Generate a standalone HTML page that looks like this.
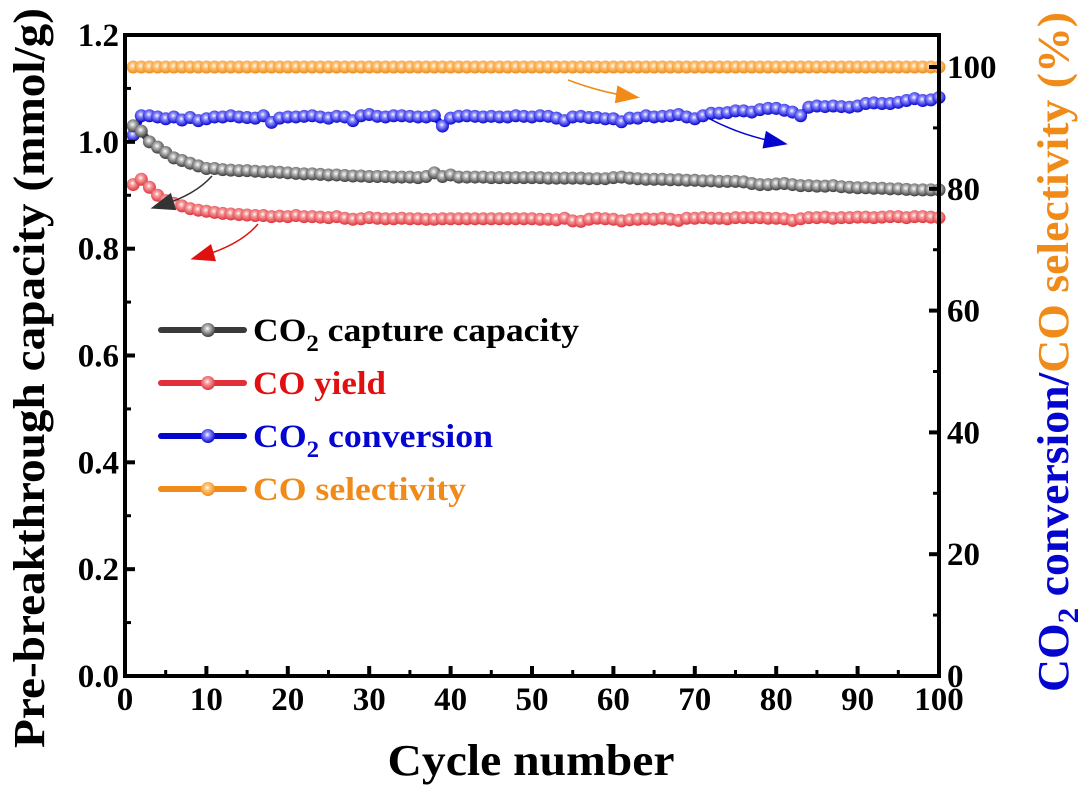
<!DOCTYPE html>
<html><head><meta charset="utf-8"><style>
body{margin:0;background:#fff}
svg{display:block;font-family:"Liberation Serif",serif;font-weight:bold}
</style></head><body>
<svg width="1080" height="792" viewBox="0 0 1080 792">
<defs>
<radialGradient id="gk" cx="0.45" cy="0.4" r="0.6"><stop offset="0" stop-color="#fff"/><stop offset="0.3" stop-color="#bbb"/><stop offset="1" stop-color="#3a3a3a"/></radialGradient>
<radialGradient id="gr" cx="0.45" cy="0.4" r="0.6"><stop offset="0" stop-color="#fff"/><stop offset="0.3" stop-color="#f5a0a0"/><stop offset="1" stop-color="#e0303a"/></radialGradient>
<radialGradient id="gb" cx="0.45" cy="0.4" r="0.6"><stop offset="0" stop-color="#fff"/><stop offset="0.3" stop-color="#9090ff"/><stop offset="1" stop-color="#0505d0"/></radialGradient>
<radialGradient id="go" cx="0.45" cy="0.4" r="0.6"><stop offset="0" stop-color="#fff"/><stop offset="0.3" stop-color="#ffc880"/><stop offset="1" stop-color="#f08a18"/></radialGradient>
</defs>
<g id="series"></g>
<g id="axes"></g>
<g id="legend"></g>
<text x="531" y="775" font-size="44" text-anchor="middle" textLength="287" lengthAdjust="spacingAndGlyphs">Cycle number</text>
<text transform="translate(44,378) rotate(-90)" font-size="44" text-anchor="middle" textLength="740" lengthAdjust="spacingAndGlyphs">Pre-breakthrough capacity (mmol/g)</text>
<text transform="translate(1068,352) rotate(-90)" font-size="44" text-anchor="middle" textLength="680" lengthAdjust="spacingAndGlyphs"><tspan fill="#0505d0">CO<tspan font-size="30" dy="10">2</tspan><tspan dy="-10"> conversion/</tspan></tspan><tspan fill="#f08a18">CO selectivity (%)</tspan></text>
</svg>
<script>
const cycles=[1,2,3,4,5,6,7,8,9,10,11,12,13,14,15,16,17,18,19,20,21,22,23,24,25,26,27,28,29,30,31,32,33,34,35,36,37,38,39,40,41,42,43,44,45,46,47,48,49,50,51,52,53,54,55,56,57,58,59,60,61,62,63,64,65,66,67,68,69,70,71,72,73,74,75,76,77,78,79,80,81,82,83,84,85,86,87,88,89,90,91,92,93,94,95,96,97,98,99,100];
const captureCapacity=[1.03,1.02,1.00,0.99,0.98,0.97,0.965,0.96,0.955,0.95,0.95,0.948,0.947,0.946,0.946,0.945,0.944,0.944,0.943,0.942,0.941,0.940,0.940,0.939,0.938,0.938,0.937,0.936,0.936,0.935,0.935,0.935,0.934,0.934,0.934,0.933,0.935,0.942,0.935,0.938,0.934,0.934,0.934,0.934,0.933,0.933,0.933,0.933,0.933,0.933,0.933,0.932,0.932,0.932,0.932,0.932,0.931,0.931,0.931,0.933,0.934,0.932,0.931,0.930,0.930,0.930,0.929,0.929,0.928,0.928,0.927,0.927,0.926,0.926,0.926,0.925,0.922,0.920,0.920,0.921,0.922,0.920,0.918,0.918,0.917,0.917,0.918,0.916,0.915,0.914,0.914,0.913,0.913,0.912,0.912,0.911,0.910,0.910,0.910,0.910];
const coYield=[0.920,0.930,0.915,0.900,0.890,0.885,0.880,0.875,0.872,0.870,0.868,0.866,0.865,0.864,0.863,0.862,0.862,0.860,0.861,0.860,0.862,0.860,0.860,0.859,0.858,0.860,0.857,0.855,0.856,0.858,0.857,0.856,0.856,0.857,0.856,0.856,0.855,0.855,0.856,0.856,0.856,0.856,0.856,0.856,0.856,0.856,0.856,0.856,0.856,0.856,0.855,0.855,0.854,0.857,0.852,0.851,0.855,0.857,0.856,0.855,0.852,0.854,0.855,0.856,0.855,0.857,0.855,0.853,0.857,0.857,0.858,0.857,0.857,0.856,0.858,0.858,0.858,0.858,0.857,0.857,0.856,0.853,0.856,0.858,0.858,0.859,0.857,0.858,0.858,0.859,0.859,0.858,0.859,0.860,0.860,0.858,0.860,0.860,0.859,0.858];
const co2Conversion=[88.8,92.0,92.0,91.8,91.5,91.8,91.3,91.7,91.2,91.5,91.8,91.8,92.0,91.8,91.7,91.6,92.0,90.9,91.6,91.8,91.8,91.9,92.0,91.8,91.6,91.9,91.8,91.2,92.0,92.2,91.9,91.8,92.0,92.0,91.9,91.8,91.8,92.0,90.3,91.6,91.9,92.0,91.9,91.8,91.9,91.8,91.8,92.0,91.9,91.8,92.0,91.9,91.6,91.2,91.8,91.9,91.7,91.7,91.5,91.5,91.0,91.6,91.6,92.0,91.8,91.9,92.0,92.2,91.8,91.5,92.0,92.4,92.4,92.5,92.8,92.8,92.6,93.0,93.2,93.2,92.9,92.6,92.0,93.4,93.6,93.5,93.6,93.5,93.4,93.6,94.0,94.1,94.0,94.0,94.2,94.5,94.8,94.5,94.6,95.0];
const coSelectivity=[100,100,100,100,100,100,100,100,100,100,100,100,100,100,100,100,100,100,100,100,100,100,100,100,100,100,100,100,100,100,100,100,100,100,100,100,100,100,100,100,100,100,100,100,100,100,100,100,100,100,100,100,100,100,100,100,100,100,100,100,100,100,100,100,100,100,100,100,100,100,100,100,100,100,100,100,100,100,100,100,100,100,100,100,100,100,100,100,100,100,100,100,100,100,100,100,100,100,100,100];
const xTicks=[0,10,20,30,40,50,60,70,80,90,100];
const leftTicks=[0.0,0.2,0.4,0.6,0.8,1.0,1.2];
const rightTicks=[0,20,40,60,80,100];
const legendLabels=["CO2 capture capacity","CO yield","CO2 conversion","CO selectivity"];

const NS="http://www.w3.org/2000/svg";
const L=125,R=939,T=35,B=676;
const xs=v=>L+(v/100)*(R-L);
const yl=v=>B-(v/1.2)*(B-T);
const yr=v=>B-v*6.09;
function mk(tag,attrs,parent){const e=document.createElementNS(NS,tag);for(const k in attrs)e.setAttribute(k,attrs[k]);parent.appendChild(e);return e;}
const gs=document.getElementById('series'),ga=document.getElementById('axes'),gl=document.getElementById('legend');

function series(vals,yf,col,grad,name){
  const g=mk('g',{},gs);
  
  
  const pts=vals.map((v,i)=>xs(cycles[i])+','+yf(v)).join(' ');
  mk('polyline',{points:pts,fill:'none',stroke:col,'stroke-width':7},g);
  vals.forEach((v,i)=>{
    const c=mk('circle',{cx:xs(cycles[i]),cy:yf(v),r:6.5,fill:'url(#'+grad+')'},g);
    
    
  });
}
series(coSelectivity,yr,'#f08a18','go','co-selectivity-series');
series(co2Conversion,yr,'#0505d0','gb','co2-conversion-series');
series(captureCapacity,yl,'#3a3a3a','gk','capture-capacity-series');
series(coYield,yl,'#e0303a','gr','co-yield-series');

function arrow(x1,y1,cx,cy,x2,y2,col,name){
  const g=mk('g',{},gs);
  
  
  mk('path',{d:`M${x1},${y1} Q${cx},${cy} ${x2},${y2}`,fill:'none',stroke:col,'stroke-width':1.5},g);
  const a=Math.atan2(y2-cy,x2-cx),len=24,w=9;
  const tx=x2+Math.cos(a)*len*0.5,ty=y2+Math.sin(a)*len*0.5;
  const bx=tx-Math.cos(a)*len,by=ty-Math.sin(a)*len;
  mk('polygon',{points:`${tx},${ty} ${bx-Math.sin(a)*w},${by+Math.cos(a)*w} ${bx+Math.sin(a)*w},${by-Math.cos(a)*w}`,fill:col},g);
}
arrow(212,176,195,195,162,205,'#333','capture-arrow');
arrow(258,224,240,245,202,256,'#e01010','yield-arrow');
arrow(568,80,600,92,628,96,'#f08a18','selectivity-arrow');
arrow(708,118,740,135,776,142,'#0505d0','conversion-arrow');

const fr=mk('rect',{x:L,y:T,width:R-L,height:B-T,fill:'none',stroke:'#000','stroke-width':4},ga);


xTicks.forEach(t=>{
  mk('line',{x1:xs(t),y1:B,x2:xs(t),y2:B-10,stroke:'#000','stroke-width':4},ga);
  const tx=mk('text',{x:xs(t),y:B+34,'font-size':33,'text-anchor':'middle'},ga);
  tx.textContent=t;
  
  
});
for(let i=0;i<xTicks.length-1;i++){const m=(xTicks[i]+xTicks[i+1])/2;mk('line',{x1:xs(m),y1:B,x2:xs(m),y2:B-6,stroke:'#000','stroke-width':3},ga);}
leftTicks.forEach(t=>{
  mk('line',{x1:L,y1:yl(t),x2:L+10,y2:yl(t),stroke:'#000','stroke-width':4},ga);
  const tx=mk('text',{x:L-6,y:yl(t)+11,'font-size':33,'text-anchor':'end'},ga);
  tx.textContent=t.toFixed(1);
  
  
});
for(let i=0;i<leftTicks.length-1;i++){const m=(leftTicks[i]+leftTicks[i+1])/2;mk('line',{x1:L,y1:yl(m),x2:L+6,y2:yl(m),stroke:'#000','stroke-width':3},ga);}
rightTicks.forEach(t=>{
  mk('line',{x1:R,y1:yr(t),x2:R-10,y2:yr(t),stroke:'#000','stroke-width':4},ga);
  const tx=mk('text',{x:R+8,y:yr(t)+11,'font-size':33,'text-anchor':'start'},ga);
  tx.textContent=t;
  
  
});
for(let i=0;i<rightTicks.length-1;i++){const m=rightTicks[i]+10;mk('line',{x1:R,y1:yr(m),x2:R-6,y2:yr(m),stroke:'#000','stroke-width':3},ga);}

const lcols=['#3a3a3a','#e0303a','#0505d0','#f08a18'],lgrad=['gk','gr','gb','go'],ltext=['#000','#e01010','#0505d0','#f08a18'];
const lwidths=[326,133,240,213];
legendLabels.forEach((lab,i)=>{
  const y=330+i*53;
  const g=mk('g',{},gl);
  
  
  mk('line',{x1:161,y1:y,x2:244,y2:y,stroke:lcols[i],'stroke-width':6,'stroke-linecap':'round'},g);
  mk('circle',{cx:208,cy:y,r:7,fill:'url(#'+lgrad[i]+')'},g);
  const t=mk('text',{x:253,y:y+11,'font-size':33,fill:ltext[i],textLength:lwidths[i],lengthAdjust:'spacingAndGlyphs'},g);
  if(lab.startsWith('CO2')){
    t.appendChild(document.createTextNode('CO'));
    const s=mk('tspan',{'font-size':23,dy:10},t);s.textContent='2';
    const r=mk('tspan',{dy:-10},t);r.textContent=lab.slice(3);
  } else t.textContent=lab;
});
</script>
</body></html>
